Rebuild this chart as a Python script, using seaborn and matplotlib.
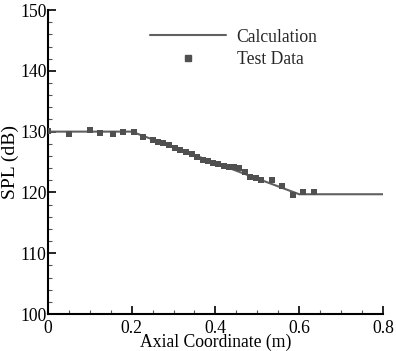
import matplotlib
matplotlib.use("Agg")
import matplotlib.pyplot as plt
from matplotlib.lines import Line2D
from matplotlib.ticker import MultipleLocator
import seaborn as sns
import pandas as pd

calc_x = [0.0, 0.2, 0.6, 0.8]
calc_y = [130.0, 130.0, 119.7, 119.7]

test_x = [0.0, 0.05, 0.10, 0.125, 0.155, 0.18, 0.205, 0.228, 0.25, 0.262, 0.275,
          0.29, 0.303, 0.315, 0.33, 0.343, 0.357, 0.37, 0.383, 0.395, 0.407, 0.42,
          0.433, 0.445, 0.457, 0.47, 0.482, 0.496, 0.509, 0.536, 0.56, 0.586, 0.61, 0.636]
test_y = [130.1, 129.6, 130.3, 129.8, 129.6, 130.0, 130.0, 129.1, 128.6, 128.3, 128.1,
          127.8, 127.35, 127.0, 126.7, 126.3, 125.8, 125.4, 125.2, 124.9, 124.7, 124.4,
          124.1, 124.1, 124.0, 123.4, 122.6, 122.3, 122.0, 122.1, 121.05, 119.6, 120.1, 120.1]

x_ticks = [0.0, 0.2, 0.4, 0.6, 0.8]
x_tick_labels = ["0", "0.2", "0.4", "0.6", "0.8"]
y_ticks = [100, 110, 120, 130, 140, 150]

sns.set_theme(style="ticks")
plt.rcParams['font.family'] = ['Liberation Serif', 'DejaVu Serif']

fig = plt.figure(figsize=(3.96, 3.51), dpi=100)
ax = fig.add_axes([0.121, 0.1054, 0.846, 0.866])

calc_df = pd.DataFrame({"x": calc_x, "y": calc_y})
test_df = pd.DataFrame({"x": test_x, "y": test_y})

sns.lineplot(data=calc_df, x="x", y="y", ax=ax, color="#606060", linewidth=1.5,
             estimator=None, sort=False)
sns.scatterplot(data=test_df, x="x", y="y", ax=ax, color="#505050", marker="s",
                s=14, linewidth=0, zorder=3)

ax.set_xlim(0, 0.8)
ax.set_ylim(100, 150)
ax.set_xticks(x_ticks)
ax.set_xticklabels(x_tick_labels)
ax.set_yticks(y_ticks)
ax.xaxis.set_minor_locator(MultipleLocator(0.05))
ax.yaxis.set_minor_locator(MultipleLocator(2))
ax.tick_params(axis="both", which="major", direction="in", length=6, width=1.2,
               labelsize=12.7, pad=1, color="black", labelcolor="black")
ax.tick_params(axis="both", which="minor", direction="in", length=3, width=0.8,
               color="#555555")
ax.tick_params(axis="x", which="major", pad=4.5)

for s in ["top", "right"]:
    ax.spines[s].set_visible(False)
for s in ["left", "bottom"]:
    ax.spines[s].set_linewidth(1.5)
    ax.spines[s].set_color("black")

ax.set_xlabel("Axial Coordinate (m)", fontsize=12.7, labelpad=-2.5, color="black")
ax.set_ylabel("SPL (dB)", fontsize=14, labelpad=1, color="black")

handles = [Line2D([0], [0], color="#606060", lw=1.5),
           Line2D([0], [0], color="#505050", marker="s", markersize=4, lw=0)]
ax.legend(handles, ["Calculation", "Test Data"], loc="upper left",
          bbox_to_anchor=(0.284, 0.962), frameon=False, fontsize=12.7,
          handlelength=4.3, handletextpad=0.6, labelspacing=0.3, borderaxespad=0)

fig.savefig("out.png", dpi=100)
